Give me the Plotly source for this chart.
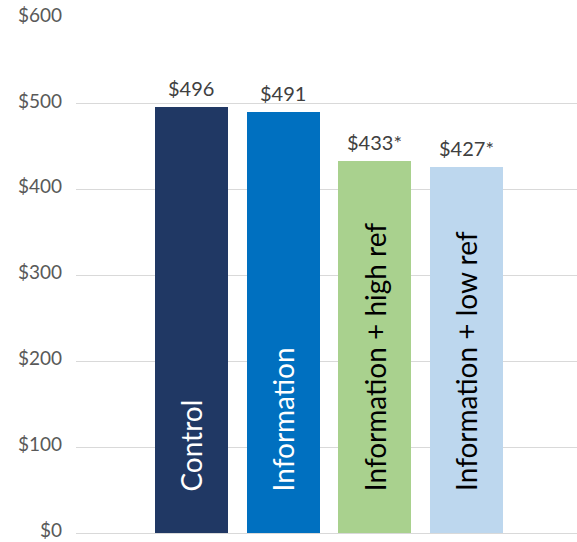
import plotly.graph_objects as go

# Average spending by treatment group
groups = ["Control", "Information", "Information + high ref", "Information + low ref"]
values = [496, 491, 433, 427]
value_labels = ["$496", "$491", "$433*", "$427*"]
bar_colors = ["#203864", "#0070C0", "#A9D18E", "#BDD7EE"]
name_colors = ["#FFFFFF", "#FFFFFF", "#000000", "#000000"]
y_ticks = [0, 100, 200, 300, 400, 500, 600]
y_tick_labels = ["$0", "$100", "$200", "$300", "$400", "$500", "$600"]

FONT = "Lato"

fig = go.Figure(
    go.Bar(
        x=groups,
        y=values,
        marker=dict(color=bar_colors, line=dict(width=0)),
        width=0.796,
        hoverinfo="skip",
    )
)

annotations = []
for g, v, lab, tc in zip(groups, values, value_labels, name_colors):
    # value label above the bar
    annotations.append(dict(
        x=g, y=v, xref="x", yref="y", text=lab, showarrow=False,
        xanchor="center", yanchor="bottom", yshift=5,
        font=dict(family=FONT, size=20, color="#404040"),
    ))
    # group name written upward inside the bar, near its base
    annotations.append(dict(
        x=g, y=0, xref="x", yref="y", text=g, showarrow=False,
        textangle=-90, xanchor="center", yanchor="bottom", yshift=40,
        font=dict(family=FONT, size=28, color=tc),
    ))

fig.update_layout(
    width=577, height=542,
    margin=dict(l=76, r=0, t=18, b=7),
    paper_bgcolor="white", plot_bgcolor="white",
    showlegend=False,
    bargap=0,
    annotations=annotations,
    xaxis=dict(
        type="category", range=[-1.257, 4.203],
        showticklabels=False, showgrid=False, zeroline=False, showline=False,
        fixedrange=True,
    ),
    yaxis=dict(
        range=[-2, 600], tickvals=y_ticks, ticktext=y_tick_labels,
        showgrid=True, gridcolor="#D9D9D9", gridwidth=1,
        zeroline=True, zerolinecolor="#D9D9D9", zerolinewidth=1,
        showline=False, ticks="",
        ticklabelstandoff=13, ticklabelshift=-3, ticklabeloverflow="allow",
        automargin=False,
        tickfont=dict(family=FONT, size=19, color="#595959"),
        fixedrange=True,
    ),
)

fig.write_html("out.html")
